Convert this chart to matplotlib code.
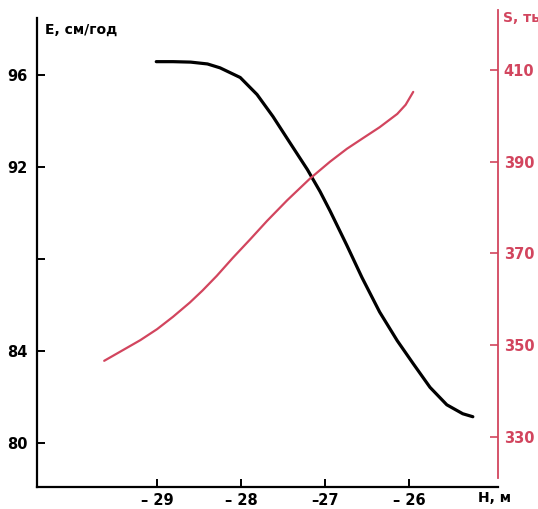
import matplotlib
matplotlib.use("Agg")
import matplotlib.pyplot as plt
import matplotlib.transforms as mtransforms

# E (cm/year) vs H (m)
h_e = [-29.01, -28.81, -28.60, -28.40, -28.25, -28.01, -27.81, -27.62, -27.42,
       -27.21, -27.06, -26.94, -26.74, -26.56, -26.35, -26.14, -25.95, -25.75,
       -25.55, -25.36, -25.24]
e_vals = [96.60, 96.60, 96.58, 96.50, 96.33, 95.91, 95.17, 94.21, 93.08,
          91.90, 90.95, 90.10, 88.60, 87.20, 85.70, 84.45, 83.45, 82.42,
          81.66, 81.27, 81.14]

# S vs H (m)
h_s = [-29.63, -29.41, -29.20, -29.00, -28.81, -28.61, -28.46, -28.29, -28.10,
       -27.89, -27.69, -27.45, -27.18, -26.94, -26.74, -26.55, -26.35, -26.14,
       -26.04, -25.95]
s_vals = [346.6, 348.9, 351.1, 353.5, 356.2, 359.3, 361.9, 365.1, 369.0,
          373.1, 377.1, 381.6, 386.3, 390.0, 392.8, 395.1, 397.5, 400.4,
          402.4, 405.2]

x_ticks = [-29, -28, -27, -26]
x_labels = ["\u2013 29", "\u2013 28", "\u201327", "\u2013 26"]
e_ticks = [80, 84, 88, 92, 96]
e_labels = ["80", "84", "", "92", "96"]
s_ticks = [330, 350, 370, 390, 410]

red = "#d2455e"
plt.rcParams["font.family"] = ["DejaVu Sans"]

fig = plt.figure(figsize=(5.38, 5.09), dpi=100)
ax = fig.add_axes([0.0688, 0.0432, 0.8569, 0.9214])
ax2 = ax.twinx()

ax.plot(h_e, e_vals, color="black", lw=2.3, solid_capstyle="round",
        solid_joinstyle="round")
ax2.plot(h_s, s_vals, color=red, lw=1.6, solid_capstyle="round",
         solid_joinstyle="round")

ax.set_xlim(-30.43, -24.94)
ax.set_ylim(78.08, 98.5)
ax2.set_ylim(319.1, 421.3)

for a in (ax, ax2):
    a.spines["top"].set_visible(False)
ax.spines["right"].set_visible(False)
ax2.spines["left"].set_visible(False)
ax2.spines["bottom"].set_visible(False)
ax.spines["left"].set_linewidth(1.6)
ax.spines["bottom"].set_linewidth(1.6)
ax2.spines["right"].set_color(red)
ax2.spines["right"].set_linewidth(1.3)
ax2.spines["right"].set_bounds(321, 423)

ax.set_xticks(x_ticks)
ax.set_xticklabels(x_labels, fontsize=10.5, fontweight="bold")
shift = mtransforms.ScaledTranslation(-6 / 100, 0, fig.dpi_scale_trans)
for lab in ax.get_xticklabels():
    lab.set_transform(lab.get_transform() + shift)
ax.set_yticks(e_ticks)
ax.set_yticklabels(e_labels, fontsize=10.5, fontweight="bold")
ax.tick_params(axis="both", direction="in", length=6, width=1.4, pad=7)
ax.tick_params(axis="x", pad=4)

ax2.set_yticks(s_ticks)
ax2.set_yticklabels([str(v) for v in s_ticks], fontsize=10.5, fontweight="bold", color=red)
ax2.tick_params(axis="y", direction="in", length=6, width=1.2, color=red, pad=4)

fig.text(45 / 538, 1 - 30 / 509, "E, см/год", fontsize=10, fontweight="bold", va="center")
fig.text(503 / 538, 1 - 18 / 509, "S, тыс. км²", fontsize=10, fontweight="bold",
         va="center", color=red)
fig.text(478 / 538, 1 - 498 / 509, "H, м", fontsize=10, fontweight="bold", va="center")

fig.savefig("out.png", dpi=100)
